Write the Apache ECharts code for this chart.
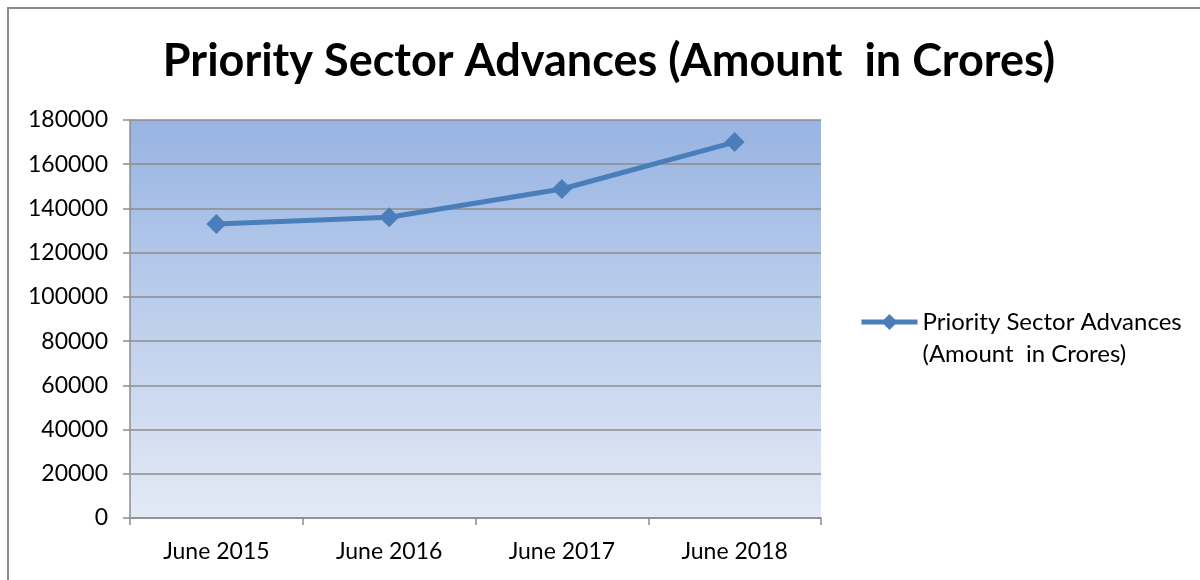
<!DOCTYPE html>
<html>
<head>
<meta charset="utf-8">
<script src="https://cdn.jsdelivr.net/npm/echarts@6/dist/echarts.min.js"></script>
<style>
    html, body { margin: 0; padding: 0; background: #fff; }
    #frame {
        position: absolute; left: 7px; top: 7px; width: 1193px; height: 573px;
        border-left: 2px solid #8c8c8c; border-top: 2px solid #8c8c8c;
        box-sizing: border-box;
    }
    #chart { position: absolute; left: 0; top: 0; width: 1200px; height: 580px; }
</style>
</head>
<body>
<div id="frame"></div>
<div id="chart"></div>
<script>
var titleText = 'Priority Sector Advances (Amount  in Crores)';
var seriesName = 'Priority Sector Advances (Amount  in Crores)';
var categories = ['June 2015', 'June 2016', 'June 2017', 'June 2018'];
var advances = [133000, 136000, 148800, 170000];
var yTicks = [0, 20000, 40000, 60000, 80000, 100000, 120000, 140000, 160000, 180000];

var font = 'Lato, "Open Sans", sans-serif';
var myChart = echarts.init(document.getElementById('chart'));
var option = {
    animation: false,
    title: {
        text: titleText,
        left: 604,
        textAlign: 'center',
        top: 34,
        textStyle: { fontFamily: font, fontSize: 45, fontWeight: 'bold', color: '#000' }
    },
    grid: {
        left: 130,
        right: 379,
        top: 120,
        bottom: 62,
        show: true,
        borderWidth: 0,
        backgroundColor: {
            type: 'linear', x: 0, y: 0, x2: 0, y2: 1,
            colorStops: [
                { offset: 0, color: '#98b4e2' },
                { offset: 1, color: '#e3eaf6' }
            ]
        }
    },
    legend: {
        left: 859,
        top: 274,
        padding: 0,
        itemWidth: 56,
        itemHeight: 20,
        itemGap: 0,
        data: [seriesName],
        lineStyle: { width: 5 },
        // blank first line keeps the marker level with the first text line
        formatter: function () {
            return ' \nPriority Sector Advances\n(Amount  in Crores)';
        },
        textStyle: {
            fontFamily: font, fontSize: 24, color: '#000',
            lineHeight: 32
        }
    },
    xAxis: {
        type: 'category',
        data: categories,
        boundaryGap: true,
        axisLine: { lineStyle: { color: '#8c8c8c', width: 1.5 } },
        axisTick: { show: true, length: 7, interval: 0, lineStyle: { color: '#8c8c8c', width: 1.5 } },
        axisLabel: { margin: 22, fontFamily: font, fontSize: 23, color: '#000' }
    },
    yAxis: {
        type: 'value',
        min: yTicks[0],
        max: yTicks[yTicks.length - 1],
        interval: 20000,
        axisLine: { show: true, lineStyle: { color: '#8c8c8c', width: 1.5 } },
        axisTick: { show: true, length: 7, lineStyle: { color: '#8c8c8c', width: 1.5 } },
        splitLine: { lineStyle: { color: '#8c8c8c', width: 1.5 } },
        axisLabel: {
            margin: 22, fontFamily: font, fontSize: 23, color: '#000',
            formatter: function (v) { return String(v); }
        }
    },
    series: [
        {
            name: seriesName,
            type: 'line',
            data: advances,
            symbol: 'diamond',
            symbolSize: 20,
            itemStyle: { color: '#4a7ebb' },
            lineStyle: { color: '#4a7ebb', width: 5 }
        }
    ]
};
option && myChart.setOption(option);
</script>
</body>
</html>
